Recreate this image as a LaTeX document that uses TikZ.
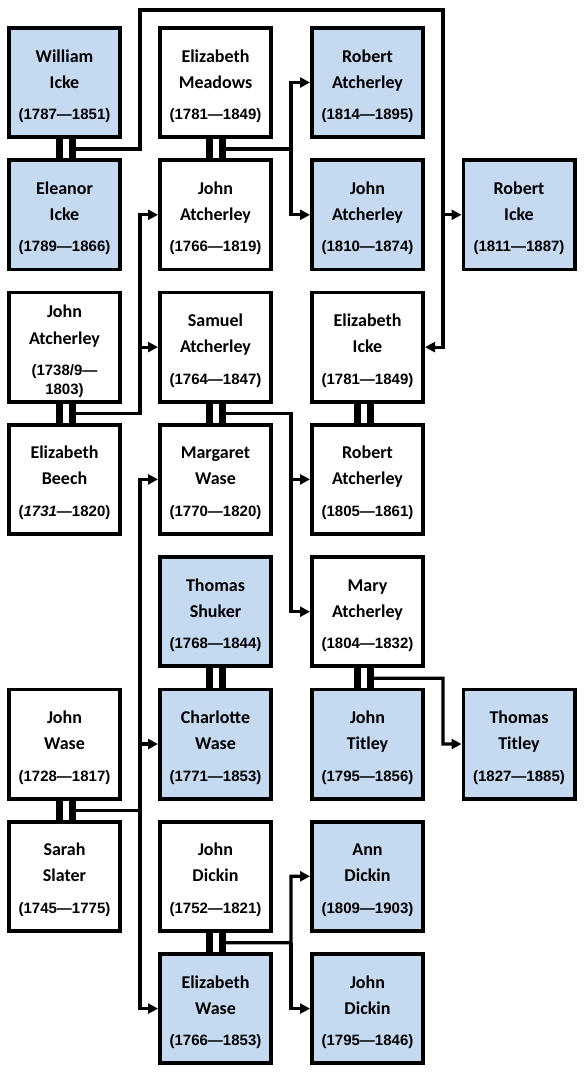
\documentclass[tikz,border=0pt]{standalone}
\usepackage{fontspec}
\usetikzlibrary{arrows.meta,calc}
\newfontfamily\calfont{Carlito}
\newfontfamily\arifont{Liberation Sans}
\definecolor{pblue}{HTML}{C5D9F1}
\newcommand\namefont{\calfont\bfseries\fontsize{18}{20}\selectfont}
\newcommand\datefont{\arifont\bfseries\fontsize{15}{18}\selectfont}
\tikzset{
  pbox/.style={draw=black, line width=3.8pt, minimum width=111.2pt, minimum height=109.2pt, inner sep=0pt},
  nm/.style={font=\namefont, anchor=base, inner sep=0pt},
  dt/.style={font=\datefont, anchor=base, inner sep=0pt},
  barn/.style={fill=black, minimum width=7pt, minimum height=24pt, inner sep=0pt},
  conn/.style={line width=3.2pt},
  arr/.style={conn, -{Triangle[length=10pt,width=10pt]}}
}
% #1 id, #2 x, #3 row, #4 fill, #5 line1, #6 line2, #7 dates
\newcommand\pers[7]{%
  \node[pbox, fill=#4] (#1) at (#2, 82.5+132.3*#3) {};
  \node[nm] (#1-a) at ($(#1.center)+(0,-20.5)$) {#5};
  \node[nm] (#1-b) at ($(#1.center)+(0,5.5)$) {#6};
  \node[dt] (#1-c) at ($(#1.center)+(0,37)$) {#7};
}
% marriage bars: #1 id, #2 x left, #3 x right, #4 upper row
\newcommand\marr[4]{%
  \node[barn] (#1a) at (#2, 149+132.3*#4) {};
  \node[barn] (#1b) at (#3, 149+132.3*#4) {};
}
\begin{document}
\begin{tikzpicture}[x=1pt, y=-1pt]
\path[use as bounding box, fill=white] (0,0) rectangle (584,1076);

% marriage bars
\marr{mA}{59}{72}{0}
\marr{mB}{209}{222}{0}
\marr{mC}{59}{72}{2}
\marr{mD}{209}{222}{2}
\marr{mH}{357}{370}{2}
\marr{mI}{209}{222}{4}
\marr{mE}{357}{370}{4}
\marr{mF}{59}{72}{5}
\marr{mG}{209}{222}{6}

% column 1
\pers{wi}{64.5}{0}{pblue}{William}{Icke}{(1787—1851)}
\pers{ei}{64.5}{1}{pblue}{Eleanor}{Icke}{(1789—1866)}
\node[pbox, fill=white] (ja1) at (64.5, 82.5+132.3*2) {};
\node[nm] (ja1-a) at ($(ja1.center)+(0,-29.5)$) {John};
\node[nm] (ja1-b) at ($(ja1.center)+(0,-3)$) {Atcherley};
\node[dt] (ja1-c) at ($(ja1.center)+(0,28.4)$) {(1738/9—};
\node[dt] (ja1-d) at ($(ja1.center)+(0,47.4)$) {1803)};
\pers{eb}{64.5}{3}{white}{Elizabeth}{Beech}{({\itshape 1731}—1820)}
\pers{jw}{64.5}{5}{white}{John}{Wase}{(1728—1817)}
\pers{ss}{64.5}{6}{white}{Sarah}{Slater}{(1745—1775)}

% column 2
\pers{em}{215.5}{0}{white}{Elizabeth}{Meadows}{(1781—1849)}
\pers{ja2}{215.5}{1}{white}{John}{Atcherley}{(1766—1819)}
\pers{sa}{215.5}{2}{white}{Samuel}{Atcherley}{(1764—1847)}
\pers{mw}{215.5}{3}{white}{Margaret}{Wase}{(1770—1820)}
\pers{ts}{215.5}{4}{pblue}{Thomas}{Shuker}{(1768—1844)}
\pers{cw}{215.5}{5}{pblue}{Charlotte}{Wase}{(1771—1853)}
\pers{jd}{215.5}{6}{white}{John}{Dickin}{(1752—1821)}
\pers{ew}{215.5}{7}{pblue}{Elizabeth}{Wase}{(1766—1853)}

% column 3
\pers{ra1}{367.5}{0}{pblue}{Robert}{Atcherley}{(1814—1895)}
\pers{ja3}{367.5}{1}{pblue}{John}{Atcherley}{(1810—1874)}
\pers{eli}{367.5}{2}{white}{Elizabeth}{Icke}{(1781—1849)}
\pers{ra2}{367.5}{3}{white}{Robert}{Atcherley}{(1805—1861)}
\pers{ma}{367.5}{4}{white}{Mary}{Atcherley}{(1804—1832)}
\pers{jt}{367.5}{5}{pblue}{John}{Titley}{(1795—1856)}
\pers{ad}{367.5}{6}{pblue}{Ann}{Dickin}{(1809—1903)}
\pers{jd2}{367.5}{7}{pblue}{John}{Dickin}{(1795—1846)}

% column 4
\pers{ri}{519}{1}{pblue}{Robert}{Icke}{(1811—1887)}
\pers{tt}{519}{5}{pblue}{Thomas}{Titley}{(1827—1885)}

% junction coordinates
\coordinate (kA1) at (140,149);
\coordinate (kA2) at (140,10);
\coordinate (kA3) at (443,10);
\coordinate (kB) at (291,149);
\coordinate (kC) at (140,413.6);
\coordinate (kD) at (291,413.6);
\coordinate (kE) at (443,678.2);
\coordinate (kF) at (140,810.5);
\coordinate (kG) at (291,942.8);

% connectors
\draw[arr] (mAb.center) -- (kA1) -- (kA2) -- (kA3) |- (eli.east);
\draw[arr] (kA3 |- ri.west) -- (ri.west);

\draw[arr] (mBb.center) -- (kB) |- (ra1.west);
\draw[arr] (kB) |- (ja3.west);

\draw[arr] (mCb.center) -- (kC) |- (ja2.west);
\draw[arr] (kC |- sa.west) -- (sa.west);

\draw[arr] (mDb.center) -- (kD) |- (ma.west);
\draw[arr] (kD |- ra2.west) -- (ra2.west);

\draw[arr] (mEb.center) -- (kE) |- (tt.west);

\draw[arr] (mFb.center) -- (kF) |- (ew.west);
\draw[arr] (kF) |- (mw.west);
\draw[arr] (kF |- cw.west) -- (cw.west);

\draw[arr] (mGb.center) -- (kG) |- (ad.west);
\draw[arr] (kG) |- (jd2.west);
\end{tikzpicture}
\end{document}
